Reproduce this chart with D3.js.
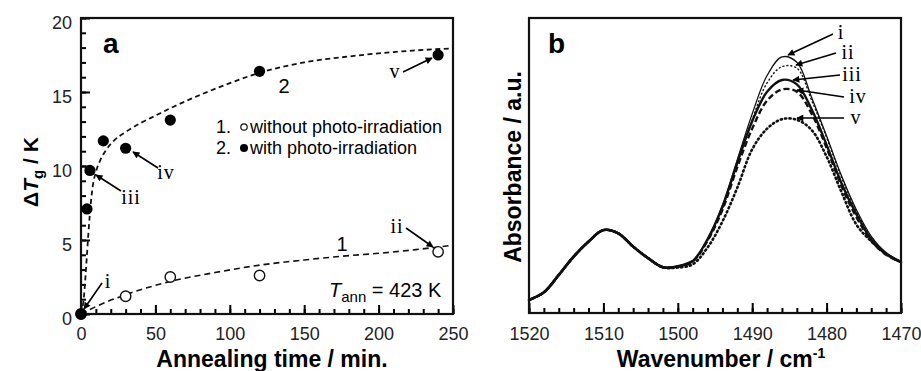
<!DOCTYPE html>
<html>
<head>
<meta charset="utf-8">
<script src="https://cdn.jsdelivr.net/npm/d3@7"></script>
<style>
  body { margin: 0; background: #fff; }
  svg { display: block; font-family: "Liberation Sans", Arial, sans-serif; }
  .roman { font-family: "Liberation Serif", "Times New Roman", serif; font-size: 20px; letter-spacing: 1px; }
</style>
</head>
<body>
<script>
// panel a: Tg shift vs annealing time
var timeOpen = [0, 30, 60, 120, 240];
var dTgOpen = [0, 1.2, 2.5, 2.6, 4.2];
var timeFilled = [0, 4, 6, 15, 30, 60, 120, 240];
var dTgFilled = [0, 7.1, 9.7, 11.7, 11.2, 13.1, 16.4, 17.5];

// dashed guide curves
var fitTime1 = [0, 10, 30, 60, 90, 120, 150, 175, 200, 225, 250];
var fitDTg1 = [0, 0.5, 1.3, 2.2, 2.8, 3.3, 3.65, 3.9, 4.1, 4.35, 4.65];
var fitTime2 = [0, 2, 3, 4, 5, 6, 7, 8, 10, 13, 17, 22, 30, 40, 50, 60, 80, 100, 120, 150, 180, 210, 250];
var fitDTg2 = [0, 1.2, 2.5, 4.0, 5.5, 6.8, 7.9, 8.7, 9.6, 10.4, 11.1, 11.7, 12.3, 12.9, 13.4, 13.9, 14.8, 15.6, 16.3, 17.0, 17.4, 17.7, 17.95];

var timeTicks = [0, 50, 100, 150, 200, 250];
var dTgTicks = [0, 5, 10, 15, 20];

// panel b: IR spectra (absorbance in arbitrary units)
var wavenumber = [1520, 1518, 1516, 1514, 1512, 1510, 1508, 1506, 1504, 1502,
                  1500, 1498, 1496, 1494, 1492, 1490, 1488, 1486, 1484, 1482, 1480, 1478, 1476, 1474, 1472, 1470];
var commonPart = [0.044, 0.07, 0.129, 0.191, 0.242, 0.281, 0.27, 0.225, 0.186, 0.155];
var specI   = commonPart.concat([0.158, 0.176, 0.25, 0.365, 0.52, 0.675, 0.805, 0.868, 0.85, 0.73, 0.60, 0.465, 0.35, 0.26, 0.205, 0.175]);
var specII  = commonPart.concat([0.158, 0.175, 0.245, 0.355, 0.505, 0.655, 0.78, 0.835, 0.83, 0.72, 0.595, 0.46, 0.345, 0.255, 0.2, 0.172]);
var specIII = commonPart.concat([0.158, 0.176, 0.25, 0.36, 0.51, 0.65, 0.75, 0.79, 0.775, 0.69, 0.57, 0.44, 0.335, 0.25, 0.2, 0.173]);
var specIV  = commonPart.concat([0.157, 0.174, 0.245, 0.35, 0.495, 0.625, 0.72, 0.758, 0.75, 0.675, 0.56, 0.43, 0.325, 0.245, 0.197, 0.172]);
var specV   = commonPart.concat([0.154, 0.165, 0.222, 0.31, 0.425, 0.555, 0.625, 0.657, 0.655, 0.62, 0.53, 0.41, 0.30, 0.243, 0.2, 0.172]);
var wnTicks = [1520, 1510, 1500, 1490, 1480, 1470];

var svg = d3.select("body").append("svg")
  .attr("width", 921)
  .attr("height", 371);

svg.append("defs").append("marker")
  .attr("id", "arr")
  .attr("viewBox", "0 0 10 10")
  .attr("refX", 9).attr("refY", 5)
  .attr("markerWidth", 9).attr("markerHeight", 7)
  .attr("markerUnits", "userSpaceOnUse")
  .attr("orient", "auto")
  .append("path").attr("d", "M0,0 L10,5 L0,10 z").attr("fill", "#000");

function arrow(x1, y1, x2, y2) {
  svg.append("line")
    .attr("x1", x1).attr("y1", y1).attr("x2", x2).attr("y2", y2)
    .attr("stroke", "#000").attr("stroke-width", 1.6)
    .attr("marker-end", "url(#arr)");
}

function label(x, y, txt, cls) {
  return svg.append("text").attr("x", x).attr("y", y)
    .attr("class", cls || null)
    .attr("text-anchor", "middle").text(txt);
}

// ---------- panel a ----------
var xa = d3.scaleLinear().domain([0, 250]).range([81, 453]);
var ya = d3.scaleLinear().domain([0, 20]).range([314, 18]);

// minor ticks (inward)
svg.append("g").attr("transform", "translate(0,314)")
  .call(d3.axisBottom(xa).tickValues(d3.range(0, 251, 10)).tickSize(-5).tickFormat(""))
  .call(function(g) { g.select(".domain").remove(); });
svg.append("g").attr("transform", "translate(81,0)")
  .call(d3.axisLeft(ya).tickValues(d3.range(0, 21, 1)).tickSize(-5).tickFormat(""))
  .call(function(g) { g.select(".domain").remove(); });
// major ticks with labels
svg.append("g").attr("transform", "translate(0,314)")
  .call(d3.axisBottom(xa).tickValues(timeTicks).tickSize(-9).tickPadding(13))
  .call(function(g) { g.select(".domain").remove(); });
svg.append("g").attr("transform", "translate(81,0)")
  .call(d3.axisLeft(ya).tickValues(dTgTicks).tickSize(-9).tickPadding(9))
  .call(function(g) { g.select(".domain").remove(); g.selectAll("text").attr("y", 5); });

svg.selectAll(".tick line").attr("stroke", "#000").attr("stroke-width", 2);
svg.selectAll(".tick text").attr("font-size", 18).attr("fill", "#222")
  .attr("font-family", "Liberation Sans, Arial, sans-serif");

svg.append("rect").attr("x", 81).attr("y", 18).attr("width", 372).attr("height", 296)
  .attr("fill", "none").attr("stroke", "#111").attr("stroke-width", 2.2);

var lineA = d3.line().curve(d3.curveMonotoneX)
  .x(function(d) { return xa(d[0]); }).y(function(d) { return ya(d[1]); });

svg.append("path").datum(d3.zip(fitTime1, fitDTg1)).attr("d", lineA)
  .attr("fill", "none").attr("stroke", "#111").attr("stroke-width", 1.6).attr("stroke-dasharray", "6,4");
svg.append("path").datum(d3.zip(fitTime2, fitDTg2)).attr("d", lineA)
  .attr("fill", "none").attr("stroke", "#111").attr("stroke-width", 1.8).attr("stroke-dasharray", "5,3.5");

svg.append("g").selectAll("circle").data(d3.zip(timeOpen, dTgOpen)).enter().append("circle")
  .attr("cx", function(d) { return xa(d[0]); })
  .attr("cy", function(d) { return ya(d[1]); })
  .attr("r", 5.2).attr("fill", "#fff").attr("stroke", "#111").attr("stroke-width", 1.4);
svg.append("g").selectAll("circle").data(d3.zip(timeFilled, dTgFilled)).enter().append("circle")
  .attr("cx", function(d) { return xa(d[0]); })
  .attr("cy", function(d) { return ya(d[1]); })
  .attr("r", 5.6).attr("fill", "#000");

svg.append("text").attr("x", 103).attr("y", 53).attr("font-size", 28).attr("font-weight", "bold").text("a");
label(284, 93, "2").attr("font-size", 20);
label(342, 251, "1").attr("font-size", 20);

// legend
svg.append("text").attr("x", 216).attr("y", 133).attr("font-size", 18).text("1.");
svg.append("circle").attr("cx", 244).attr("cy", 127).attr("r", 3.2).attr("fill", "#fff").attr("stroke", "#111").attr("stroke-width", 1.2);
svg.append("text").attr("x", 250).attr("y", 133).attr("font-size", 18).text("without photo-irradiation");
svg.append("text").attr("x", 216).attr("y", 154).attr("font-size", 18).text("2.");
svg.append("circle").attr("cx", 244).attr("cy", 148).attr("r", 4).attr("fill", "#000");
svg.append("text").attr("x", 250).attr("y", 154).attr("font-size", 18).text("with photo-irradiation");

var tann = svg.append("text").attr("x", 329).attr("y", 297).attr("font-size", 20);
tann.append("tspan").attr("font-style", "italic").text("T");
tann.append("tspan").attr("font-size", 15).attr("dy", 5).text("ann");
tann.append("tspan").attr("dy", -5).text(" = 423 K");

// roman labels + arrows, panel a
label(108, 288, "i", "roman"); arrow(102, 283, 84, 309);
label(397, 233, "ii", "roman"); arrow(406, 228, 433, 247);
label(131, 204, "iii", "roman"); arrow(121, 191, 96, 175);
label(166, 179, "iv", "roman"); arrow(158, 168, 133, 152);
label(395, 78, "v", "roman"); arrow(403, 72, 432, 58);

// axis titles a
svg.append("text").attr("x", 272).attr("y", 367).attr("text-anchor", "middle")
  .attr("font-size", 23).attr("font-weight", "bold").text("Annealing time / min.");
var ttl = svg.append("text").attr("transform", "translate(38,172) rotate(-90)")
  .attr("text-anchor", "middle").attr("font-size", 21).attr("font-weight", "bold");
ttl.append("tspan").text("\u0394");
ttl.append("tspan").attr("font-style", "italic").text("T");
ttl.append("tspan").attr("font-size", 15).attr("dy", 5).text("g");
ttl.append("tspan").attr("dy", -5).text(" / K");

// ---------- panel b ----------
var xb = d3.scaleLinear().domain([1520, 1470]).range([529, 901]);
var yb = d3.scaleLinear().domain([0, 1]).range([313, 18]);

var gb = svg.append("g");
gb.append("g").attr("transform", "translate(0,313)")
  .call(d3.axisBottom(xb).tickValues(d3.range(1520, 1469, -2)).tickSize(-5).tickFormat(""))
  .call(function(g) { g.select(".domain").remove(); });
gb.append("g").attr("transform", "translate(0,313)")
  .call(d3.axisBottom(xb).tickValues(wnTicks).tickSize(-10).tickPadding(14).tickFormat(d3.format("d")))
  .call(function(g) { g.select(".domain").remove(); });
gb.selectAll(".tick line").attr("stroke", "#000").attr("stroke-width", 2);
gb.selectAll(".tick text").attr("font-size", 18).attr("fill", "#222")
  .attr("font-family", "Liberation Sans, Arial, sans-serif");

var lineB = d3.line().curve(d3.curveCatmullRom)
  .x(function(d) { return xb(d[0]); }).y(function(d) { return yb(d[1]); });

var specs = [
  { v: specV,   w: 2.6, dash: "1.2,3.2", cap: "round" },
  { v: specIV,  w: 2.4, dash: "6,3",     cap: "butt" },
  { v: specII,  w: 1.4, dash: "1,3",     cap: "round" },
  { v: specIII, w: 2.4, dash: null,      cap: "butt" },
  { v: specI,   w: 1.3, dash: null,      cap: "butt" }
];
specs.forEach(function(s) {
  svg.append("path").datum(d3.zip(wavenumber, s.v)).attr("d", lineB)
    .attr("fill", "none").attr("stroke", "#111")
    .attr("stroke-width", s.w).attr("stroke-dasharray", s.dash)
    .attr("stroke-linecap", s.cap);
});
// shared left part drawn solid on top
svg.append("path").datum(d3.zip(wavenumber.slice(0, 12), specIII.slice(0, 12))).attr("d", lineB)
  .attr("fill", "none").attr("stroke", "#111").attr("stroke-width", 2.6);

svg.append("rect").attr("x", 529).attr("y", 18).attr("width", 372).attr("height", 295)
  .attr("fill", "none").attr("stroke", "#111").attr("stroke-width", 2.2);

svg.append("text").attr("x", 548).attr("y", 53).attr("font-size", 28).attr("font-weight", "bold").text("b");

label(841, 39, "i", "roman"); arrow(833, 34, 788, 55);
label(848, 59, "ii", "roman"); arrow(836, 53, 796, 65);
label(852, 81, "iii", "roman"); arrow(840, 75, 793, 80);
label(858, 103, "iv", "roman"); arrow(844, 97, 797, 90);
label(856, 124, "v", "roman"); arrow(844, 118, 797, 118);

var wt = svg.append("text").attr("x", 721).attr("y", 367).attr("text-anchor", "middle")
  .attr("font-size", 23).attr("font-weight", "bold");
wt.append("tspan").text("Wavenumber / cm");
wt.append("tspan").attr("font-size", 14).attr("dy", -9).text("-1");
svg.append("text").attr("transform", "translate(521,167) rotate(-90)")
  .attr("text-anchor", "middle").attr("font-size", 23).attr("font-weight", "bold")
  .text("Absorbance / a.u.");
</script>
</body>
</html>
